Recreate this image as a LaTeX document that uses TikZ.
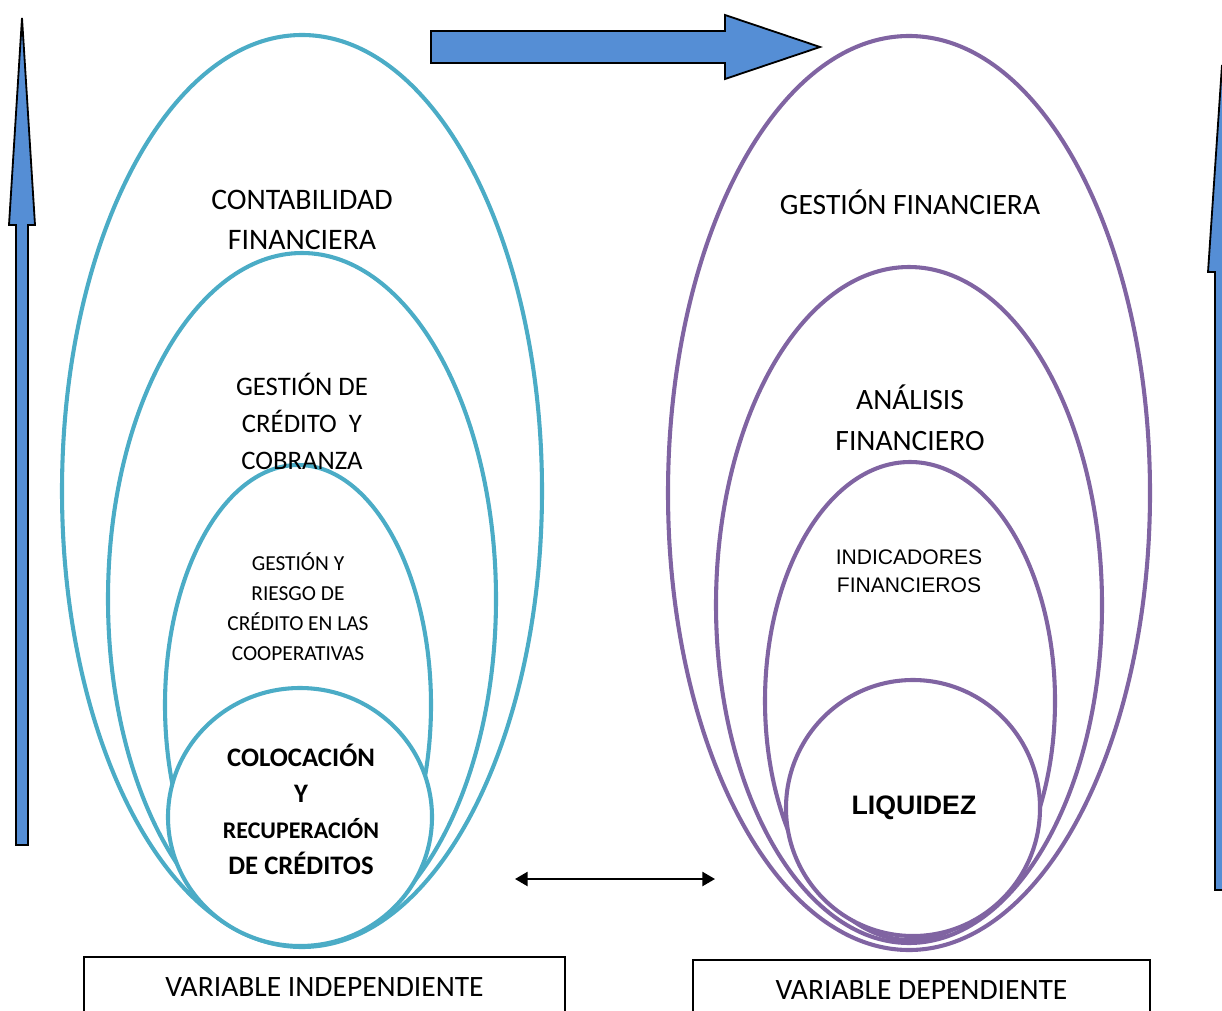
\documentclass[tikz,border=0pt]{standalone}
\usepackage{fontspec}
\setmainfont{Carlito}
\newfontfamily\arialfont{Liberation Sans}
\usetikzlibrary{arrows.meta}
\definecolor{ringteal}{RGB}{75,172,198}
\definecolor{ringpurple}{RGB}{128,100,162}
\definecolor{arrowblue}{RGB}{85,142,213}

\begin{document}
\begin{tikzpicture}[x=0.025cm, y=-0.025cm,
        tealring/.style={draw=ringteal, line width=2.9pt},
        purplering/.style={draw=ringpurple, line width=2.9pt},
        blockarrow/.style={draw=black, line width=1.3pt, fill=arrowblue, line join=miter},
        txt/.style={align=center, inner sep=0pt},
        varbox/.style={rectangle, draw, line width=1pt, minimum height=1.5cm, inner sep=0pt, font=\fontsize{21}{24}\selectfont},
        both/.style={{Triangle[length=9pt,width=10pt]}-{Triangle[length=9pt,width=10pt]}, line width=1.6pt}
      ]
        \useasboundingbox (0,0) rectangle (1222,1011);

        \draw[blockarrow] (431,31) -- (725,31) -- (725,15) -- (820,47) -- (725,79) -- (725,63) -- (431,63) -- cycle;
        \draw[blockarrow] (16,845) -- (16,225) -- (9,225) -- (22,18) -- (35,225) -- (28,225) -- (28,845) -- cycle;
        \draw[blockarrow] (1215,890) -- (1215,272) -- (1208,272) -- (1222,65) -- (1236,272) -- (1229,272) -- (1229,890) -- cycle;

        \draw[tealring] (302,491) ellipse [x radius=240, y radius=456];
        \draw[tealring] (302,599) ellipse [x radius=194, y radius=346];
        \draw[tealring] (298,705) ellipse [x radius=133, y radius=240];
        \draw[tealring, fill=white] (300,817) ellipse [x radius=132, y radius=129];

        \draw[purplering] (909,493) ellipse [x radius=241, y radius=457];
        \draw[purplering] (909,605) ellipse [x radius=193, y radius=338];
        \draw[purplering] (910,701) ellipse [x radius=145, y radius=239];
        \draw[purplering, fill=white] (913,808) ellipse [x radius=127, y radius=128];

        \node[txt, font=\fontsize{21.2}{29}\selectfont] at (302,220) (contab) {CONTABILIDAD\\FINANCIERA};
        \node[txt, font=\fontsize{19}{26.3}\selectfont] at (302,421) (gestcred) {GESTIÓN DE\\CRÉDITO\ \ Y\\COBRANZA};
        \node[txt, font=\fontsize{15.2}{21.3}\selectfont] at (298,607) (riesgo) {GESTIÓN Y\\RIESGO DE\\CRÉDITO EN LAS\\COOPERATIVAS};
        \node[txt, font=\bfseries\fontsize{19}{25.6}\selectfont] at (301,809) (coloc) {COLOCACIÓN\\Y\\{\fontsize{17}{25.6}\selectfont RECUPERACIÓN}\\DE CRÉDITOS};

        \node[txt, font=\fontsize{21}{29}\selectfont] at (910,202) (gestfin) {GESTIÓN FINANCIERA};
        \node[txt, font=\fontsize{21}{29}\selectfont] at (910,418) (analisis) {ANÁLISIS\\FINANCIERO};
        \node[txt, font=\arialfont\fontsize{15}{20}\selectfont] at (909,571) (indic) {INDICADORES\\FINANCIEROS};
        \node[txt, font=\arialfont\bfseries\fontsize{19}{22}\selectfont] at (914,808) (liquidez) {LIQUIDEZ};

        \coordinate (linkl) at (515,879);
        \coordinate (linkr) at (715,879);
        \draw[both] (linkl) -- (linkr);

        \node[varbox, minimum width=12.03cm] at (324.5,987) (indep) {VARIABLE INDEPENDIENTE};
        \node[varbox, minimum width=11.43cm] at (921.5,990) (dep) {VARIABLE DEPENDIENTE};
      \end{tikzpicture}
\end{document}
